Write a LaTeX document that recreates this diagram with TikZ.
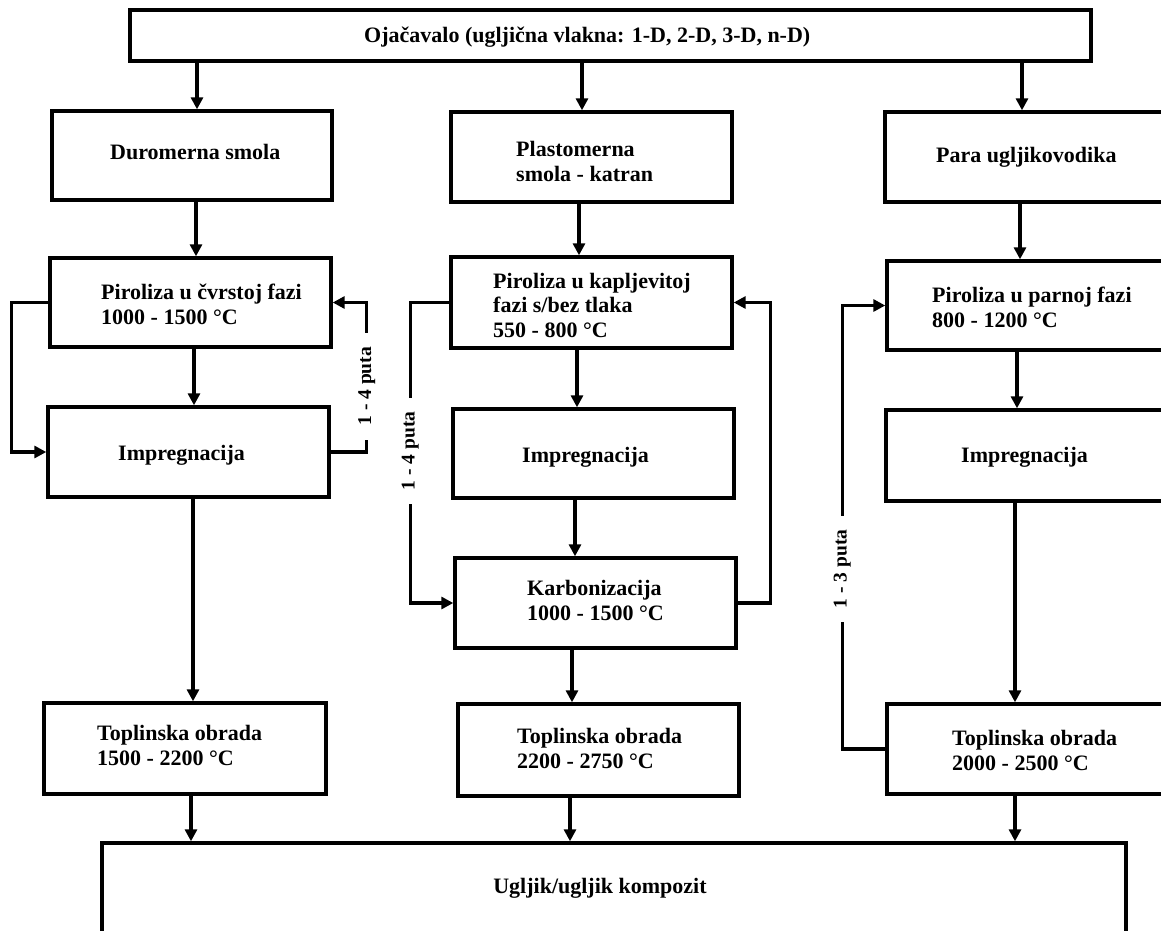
\documentclass[tikz,border=0pt]{standalone}
\usepackage{fontspec}
\setmainfont{Liberation Serif}
\usetikzlibrary{arrows.meta}
\begin{document}
\begin{tikzpicture}[x=1pt,y=-1pt,
  box/.style={draw, line width=3.4pt, inner sep=0pt},
  txt/.style={font=\fontsize{22}{24.5}\selectfont\bfseries, align=left, inner sep=0pt},
  lab/.style={font=\fontsize{19.5}{22}\selectfont\bfseries, rotate=90, fill=white, inner xsep=14pt, inner ysep=3pt},
  arr/.style={line width=3.1pt, -{Triangle[length=12pt,width=12pt]}}]
\useasboundingbox (0,0) rectangle (1161,930);
\fill[white] (0,0) rectangle (1161,930);
\clip (0,0) rectangle (1161,930);
% boxes
\node[box, minimum width=961pt, minimum height=51pt] (top) at (610.5,35.5) {};
\node[box, minimum width=280pt, minimum height=89pt] (D) at (192,155.5) {};
\node[box, minimum width=281pt, minimum height=90pt] (PL) at (591.5,157) {};
\node[box, minimum width=290pt, minimum height=90pt] (PA) at (1030,157) {};
\node[box, minimum width=281pt, minimum height=89pt] (P1) at (190.5,302.5) {};
\node[box, minimum width=281pt, minimum height=91pt] (P2) at (591.5,302.5) {};
\node[box, minimum width=288pt, minimum height=89pt] (P3) at (1031,305.5) {};
\node[box, minimum width=281pt, minimum height=90pt] (I1) at (188.5,452) {};
\node[box, minimum width=281pt, minimum height=89pt] (I2) at (593.5,453.5) {};
\node[box, minimum width=289pt, minimum height=91pt] (I3) at (1030.5,455.5) {};
\node[box, minimum width=281pt, minimum height=90pt] (K) at (595.5,603) {};
\node[box, minimum width=282pt, minimum height=91pt] (T1) at (185,748.5) {};
\node[box, minimum width=281pt, minimum height=92pt] (T2) at (598.5,750) {};
\node[box, minimum width=288pt, minimum height=90pt] (T3) at (1031,749) {};
\node[box, minimum width=1024pt, minimum height=107pt] (B) at (614,896.5) {};
% texts (base = baseline of last line)
\node[txt, anchor=base west] (ttop) at (364,42) {Ojačavalo (ugljična vlakna: 1-D, 2-D, 3-D, n-D)};
\node[txt, anchor=base west] (tD) at (110,159) {Duromerna smola};
\node[txt, anchor=base west] (tPL) at (516,181) {Plastomerna\\smola - katran};
\node[txt, anchor=base west] (tPA) at (936,162) {Para ugljikovodika};
\node[txt, anchor=base west] (tP1) at (101,324) {Piroliza u čvrstoj fazi\\1000 - 1500 °C};
\node[txt, anchor=base west] (tP2) at (493,337) {Piroliza u kapljevitoj\\fazi s/bez tlaka\\550 - 800 °C};
\node[txt, anchor=base west] (tP3) at (932,327) {Piroliza u parnoj fazi\\800 - 1200 °C};
\node[txt, anchor=base west] (tI1) at (118,460) {Impregnacija};
\node[txt, anchor=base west] (tI2) at (522,462) {Impregnacija};
\node[txt, anchor=base west] (tI3) at (961,462) {Impregnacija};
\node[txt, anchor=base west] (tK) at (527,620) {Karbonizacija\\1000 - 1500 °C};
\node[txt, anchor=base west] (tT1) at (97,765) {Toplinska obrada\\1500 - 2200 °C};
\node[txt, anchor=base west] (tT2) at (517,768) {Toplinska obrada\\2200 - 2750 °C};
\node[txt, anchor=base west] (tT3) at (952,770) {Toplinska obrada\\2000 - 2500 °C};
\node[txt, anchor=base] (tB) at (600,893) {Ugljik/ugljik kompozit};
% straight arrows
\draw[arr] (top.south -| 197,0) -- (D.north -| 197,0);
\draw[arr] (top.south -| 582,0) -- (PL.north -| 582,0);
\draw[arr] (top.south -| 1022,0) -- (PA.north -| 1022,0);
\draw[arr] (D.south -| 196,0) -- (P1.north -| 196,0);
\draw[arr] (PL.south -| 579,0) -- (P2.north -| 579,0);
\draw[arr] (PA.south -| 1020,0) -- (P3.north -| 1020,0);
\draw[arr] (P1.south -| 194,0) -- (I1.north -| 194,0);
\draw[arr] (P2.south -| 577,0) -- (I2.north -| 577,0);
\draw[arr] (P3.south -| 1017,0) -- (I3.north -| 1017,0);
\draw[arr] (I1.south -| 193,0) -- (T1.north -| 193,0);
\draw[arr] (I2.south -| 575,0) -- (K.north -| 575,0);
\draw[arr] (I3.south -| 1015,0) -- (T3.north -| 1015,0);
\draw[arr] (K.south -| 572,0) -- (T2.north -| 572,0);
\draw[arr] (T1.south -| 191,0) -- (B.north -| 191,0);
\draw[arr] (T2.south -| 570,0) -- (B.north -| 570,0);
\draw[arr] (T3.south -| 1015,0) -- (B.north -| 1015,0);
% loops
\draw[arr] (P1.west) -- ++(-37,0) |- (I1.west);
\draw[arr] (I1.east) -- ++(36,0) |- node[lab, pos=0.22] (l1) {1 - 4 puta} (P1.east);
\draw[arr] (P2.west) -- ++(-39,0) |- node[lab, pos=0.247] (l2) {1 - 4 puta} (K.west);
\draw[arr] (K.east) -- ++(33,0) |- (P2.east);
\draw[arr] (T3.west) -- ++(-43,0) |- node[lab, pos=0.203] (l3) {1 - 3 puta} (P3.west);
\end{tikzpicture}
\end{document}
